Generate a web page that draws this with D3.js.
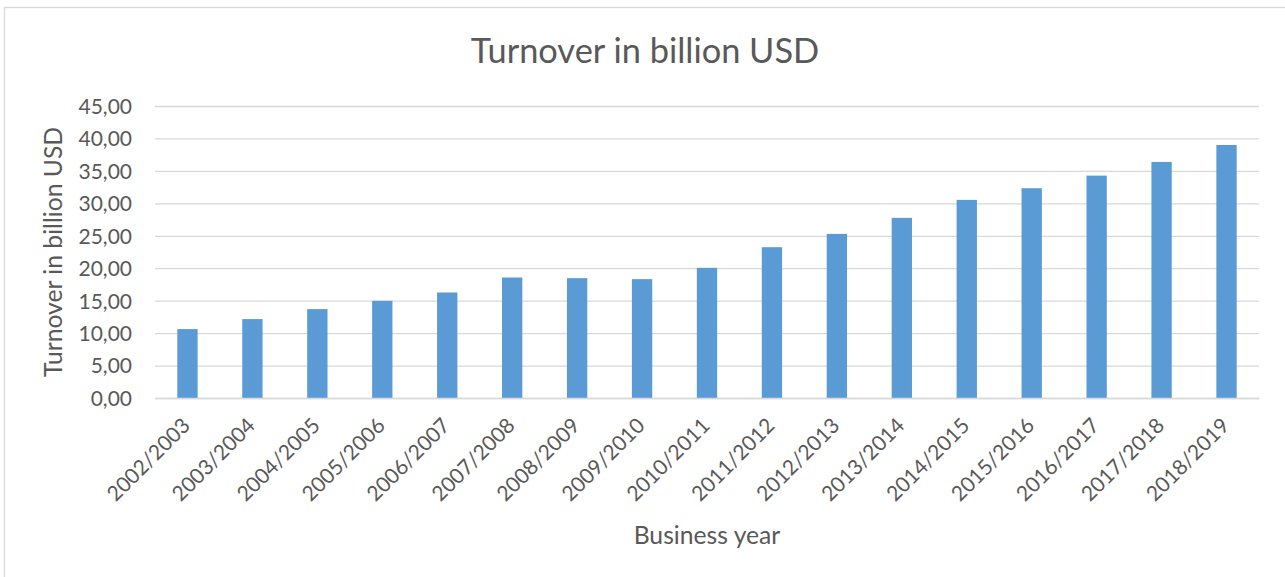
<!DOCTYPE html>
<html>
<head>
<meta charset="utf-8">
<script src="https://cdn.jsdelivr.net/npm/d3@7"></script>
<style>
  html, body { margin: 0; padding: 0; background: #fff; }
  svg { display: block; font-family: Lato, "Open Sans", sans-serif; }
</style>
</head>
<body>
<svg id="chart" width="1285" height="577"></svg>
<script>
// Business years and turnover (billion USD)
const years = ["2002/2003","2003/2004","2004/2005","2005/2006","2006/2007","2007/2008",
  "2008/2009","2009/2010","2010/2011","2011/2012","2012/2013","2013/2014",
  "2014/2015","2015/2016","2016/2017","2017/2018","2018/2019"];
const turnover = [10.62, 12.16, 13.70, 14.98, 16.26, 18.57, 18.47, 18.32, 20.06,
  23.24, 25.29, 27.76, 30.53, 32.33, 34.27, 36.38, 38.99];
const yTicks = [0, 5, 10, 15, 20, 25, 30, 35, 40, 45];

const chartTitle = "Turnover in billion USD";
const yTitle = "Turnover in billion USD";
const xTitle = "Business year";

const FONT = "Lato, 'Open Sans', sans-serif";
const svg = d3.select("#chart");
const textColor = "#595959";
const gridColor = "#d9d9d9";

const plot = { left: 155, right: 1259, top: 106, bottom: 398 };

// outer chart border
svg.append("rect")
  .attr("x", 4.5).attr("y", 7.5)
  .attr("width", 1300).attr("height", 600)
  .attr("fill", "#fff")
  .attr("stroke", gridColor).attr("stroke-width", 1.3);

const x = d3.scaleBand()
  .domain(years)
  .range([plot.left, plot.right])
  .paddingInner(0.687)
  .paddingOuter(0.3435);

const y = d3.scaleLinear()
  .domain([0, 45])
  .range([plot.bottom, plot.top]);

// horizontal gridlines + y tick labels
const yAxis = d3.axisLeft(y)
  .tickValues(yTicks)
  .tickSize(-(plot.right - plot.left))
  .tickPadding(23)
  .tickFormat(d => d3.format(".2f")(d).replace(".", ","));

const gy = svg.append("g")
  .attr("transform", `translate(${plot.left},0)`)
  .call(yAxis)
  .attr("font-family", FONT)
  .attr("font-size", 21);
gy.select(".domain").remove();
gy.selectAll(".tick line").attr("stroke", gridColor).attr("stroke-width", 1.3);
gy.selectAll(".tick text")
  .attr("fill", textColor)
  .attr("dy", "0.35em");

// bars
svg.append("g")
  .selectAll("rect")
  .data(years.map((yr, i) => ({ yr, v: turnover[i] })))
  .join("rect")
  .attr("x", d => x(d.yr))
  .attr("width", x.bandwidth())
  .attr("y", d => y(d.v))
  .attr("height", d => y(0) - y(d.v))
  .attr("fill", "#5b9bd5");

// category axis
const xAxis = d3.axisBottom(x).tickSize(0).tickPadding(0);
const gx = svg.append("g")
  .attr("transform", `translate(0,${plot.bottom})`)
  .call(xAxis)
  .attr("font-family", FONT)
  .attr("font-size", 21);
gx.select(".domain").attr("stroke", gridColor).attr("stroke-width", 1.3);
gx.selectAll(".tick text")
  .attr("fill", textColor)
  .attr("text-anchor", "end")
  .attr("dy", null)
  .attr("y", 0)
  .attr("transform", "translate(4,29) rotate(-45)");

// titles
svg.append("text")
  .attr("x", 645).attr("y", 63)
  .attr("text-anchor", "middle")
  .attr("fill", textColor)
  .style("font-size", "34.4px")
  .text(chartTitle);

svg.append("text")
  .attr("transform", `translate(62,${(plot.top + plot.bottom) / 2}) rotate(-90)`)
  .attr("text-anchor", "middle")
  .attr("fill", textColor)
  .style("font-size", "24.7px")
  .text(yTitle);

svg.append("text")
  .attr("x", (plot.left + plot.right) / 2).attr("y", 544)
  .attr("text-anchor", "middle")
  .attr("fill", textColor)
  .style("font-size", "24.7px")
  .text(xTitle);
</script>
</body>
</html>
